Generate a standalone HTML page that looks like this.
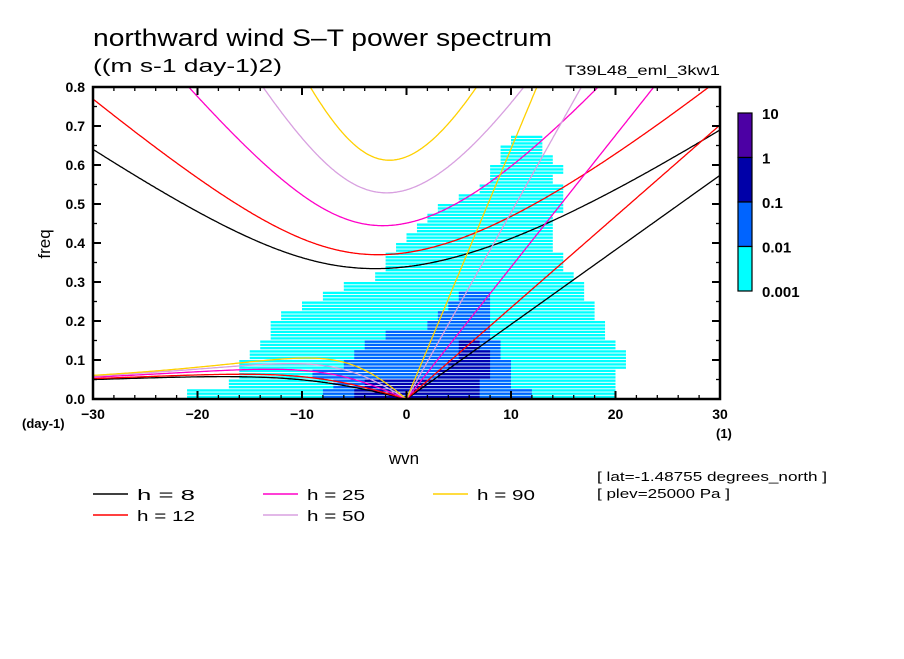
<!DOCTYPE html>
<html><head><meta charset="utf-8"><style>
body{margin:0;background:#fff}
svg text{font-family:"Liberation Sans",sans-serif}
</style></head><body>
<svg id="chart" width="904" height="654" viewBox="0 0 904 654" xmlns="http://www.w3.org/2000/svg">
<rect width="904" height="654" fill="#fff"/>
<defs><clipPath id="clip"><rect x="93" y="87" width="627" height="312"/></clipPath></defs>
<text x="93" y="46" font-size="24" textLength="459" lengthAdjust="spacingAndGlyphs">northward wind S–T power spectrum</text>
<text x="93" y="72" font-size="18" textLength="189" lengthAdjust="spacingAndGlyphs">((m s-1 day-1)2)</text>
<text x="565" y="75" font-size="14" textLength="155" lengthAdjust="spacingAndGlyphs">T39L48_eml_3kw1</text>
<g id="heat" clip-path="url(#clip)"></g>
<g id="curves" clip-path="url(#clip)"></g>
<g id="axes"></g>
<text transform="translate(50,244) rotate(-90)" font-size="17" text-anchor="middle">freq</text>
<text x="404" y="464" font-size="17" text-anchor="middle">wvn</text>
<text x="22" y="428" font-size="13" font-weight="bold">(day-1)</text>
<text x="716" y="438" font-size="13" font-weight="bold">(1)</text>
<g id="cbar"></g>
<g id="legend"></g>
<text x="597" y="481" font-size="13" textLength="230" lengthAdjust="spacingAndGlyphs">[ lat=-1.48755 degrees_north ]</text>
<text x="597" y="498" font-size="13" textLength="133" lengthAdjust="spacingAndGlyphs">[ plev=25000 Pa ]</text>
</svg>
<script>
const depths=[8,12,25,50,90];
const bandFreq=[0,0.025,0.05,0.075,0.1,0.125,0.15,0.175,0.2,0.225,0.25,0.275,0.3,0.325,0.35,0.375,0.4,0.425,0.45,0.475,0.5,0.525,0.55,0.575,0.6,0.625,0.65];
const cyanLo=[-21,-17,-16,-16,-15,-14,-13,-13,-12,-10,-8,-6,-3,-2,-2,-1,0,1,2,3,5,7,8,8,9,9,10];
const cyanHi=[20,20,20,21,21,20,19,19,18,18,17,17,16,15,15,14,14,14,14,15,15,15,14,15,14,13,13];
const blueLo=[-8,-7,-9,-6,-5,-4,-2,2,3,4,5,null,null,null,null,null,null,null,null,null,null,null,null,null,null,null,null];
const blueHi=[12,10,10,10,9,9,8,8,8,8,8,null,null,null,null,null,null,null,null,null,null,null,null,null,null,null,null];
const darkLo=[-5,-4,3,4,5,5,null,null,null,null,null,null,null,null,null,null,null,null,null,null,null,null,null,null,null,null,null];
const darkHi=[7,7,8,8,8,7,null,null,null,null,null,null,null,null,null,null,null,null,null,null,null,null,null,null,null,null,null];
const xTicks=[-30,-20,-10,0,10,20,30];
const yTicks=[0,0.1,0.2,0.3,0.4,0.5,0.6,0.7,0.8];
const cbarLabels=["10","1","0.1","0.01","0.001"];
const bandH=0.025;

const NS="http://www.w3.org/2000/svg";
const X0=93,X1=720,Y0=399,Y1=87;
function xs(s){return X0+(s+30)/60*(X1-X0);}
function ys(f){return Y0-f/0.8*(Y0-Y1);}
function mk(tag,attrs,parent){const e=document.createElementNS(NS,tag);for(const k in attrs)e.setAttribute(k,attrs[k]);parent.appendChild(e);return e;}

const heat=document.getElementById('heat');
function band(lo,hi,i,col,name){
  if(lo===null||hi===null)return;
  const top=ys(bandFreq[i]+bandH),h=ys(bandFreq[i])-top;
  for(let k=0;k<3;k++){
    const r=mk('rect',{x:xs(lo),y:top+k*h/3,width:xs(hi)-xs(lo),height:h/3*0.72,fill:col},heat);
    
    
  }
}
for(let i=0;i<bandFreq.length;i++){
  band(cyanLo[i],cyanHi[i],i,'#00ffff','cell-0.001');
  band(blueLo[i],blueHi[i],i,'#0064ff','cell-0.01');
  band(darkLo[i],darkHi[i],i,'#0000b0','cell-0.1');
}

const a=6.371e6,g=9.81,beta=2*7.292e-5/a,cpd=86400/(2*Math.PI);
const colors=['#000000','#ff0000','#ff00c8','#d8a0e0','#ffd000'];
const curves=document.getElementById('curves');
function newton(k,c,w){for(let i=0;i<60;i++){const f=w*w*w-(c*c*k*k+3*beta*c)*w-beta*c*c*k;const d=3*w*w-(c*c*k*k+3*beta*c);w-=f/d;}return w;}
depths.forEach((h,j)=>{
  const c=Math.sqrt(g*h);
  let ig=[],ro=[],kv=[];
  for(let s=-30;s<=30.001;s+=0.1){
    const k=s/a;
    const w0=Math.sqrt(c*c*k*k+3*beta*c)*1.5+1e-6;
    ig.push([xs(s),ys(newton(k,c,w0)*cpd)]);
    if(s<=0.001){const r0=k<0?-beta*k/(k*k+3*beta/c):0;ro.push([xs(s),ys((k<0?newton(k,c,r0):0)*cpd)]);}
    if(s>=-0.001)kv.push([xs(s),ys(c*k*cpd)]);
  }
  [[ig,'ig'],[ro,'rossby'],[kv,'kelvin']].forEach(([pts,nm])=>{
    const p=mk('polyline',{points:pts.map(q=>q[0].toFixed(1)+','+q[1].toFixed(1)).join(' '),fill:'none',stroke:colors[j],'stroke-width':1.3},curves);
    
    
  });
});

const ax=document.getElementById('axes');
mk('rect',{x:X0,y:Y1,width:X1-X0,height:Y0-Y1,fill:'none',stroke:'#000','stroke-width':2.5},ax);
for(let s=-30;s<=30;s+=2){
  const major=s%10===0,L=major?8:4;
  mk('line',{x1:xs(s),y1:Y0,x2:xs(s),y2:Y0-L,stroke:'#000','stroke-width':major?2:1.3},ax);
  mk('line',{x1:xs(s),y1:Y1,x2:xs(s),y2:Y1+L,stroke:'#000','stroke-width':major?2:1.3},ax);
}
for(let i=0;i<=16;i++){
  const f=i*0.05,major=i%2===0,L=major?8:4;
  mk('line',{x1:X0,y1:ys(f),x2:X0+L,y2:ys(f),stroke:'#000','stroke-width':major?2:1.3},ax);
  mk('line',{x1:X1,y1:ys(f),x2:X1-L,y2:ys(f),stroke:'#000','stroke-width':major?2:1.3},ax);
}
xTicks.forEach(t=>{
  const e=mk('text',{x:xs(t),y:419,'font-size':14,'font-weight':'bold','text-anchor':'middle'},ax);
  e.textContent=(t<0?'−':'')+Math.abs(t);
  
  
});
yTicks.forEach(t=>{
  const e=mk('text',{x:85,y:ys(t)+5,'font-size':14,'font-weight':'bold','text-anchor':'end'},ax);
  e.textContent=t.toFixed(1);
  
  
});

const cb=document.getElementById('cbar');
const cbCols=['#4c00a4','#0000a8','#0064ff','#00ffff'];
cbCols.forEach((col,i)=>{
  const r=mk('rect',{x:738,y:113+i*44.5,width:14,height:44.5,fill:col,stroke:'#000','stroke-width':1.2},cb);
  
  
});
cbarLabels.forEach((l,i)=>{
  const e=mk('text',{x:762,y:113+i*44.5+6,'font-size':15,'font-weight':'bold'},cb);
  e.textContent=l;
  
  
});

const lg=document.getElementById('legend');
const legPos=[[93,494],[93,515],[263,494],[263,515],[433,494]];
depths.forEach((h,j)=>{
  const [x,y]=legPos[j];
  const l=mk('line',{x1:x,y1:y,x2:x+35,y2:y,stroke:colors[j],'stroke-width':1.5},lg);
  
  
  const t=mk('text',{x:x+44,y:y+6,'font-size':15,textLength:58,lengthAdjust:'spacingAndGlyphs'},lg);
  t.textContent='h = '+h;
  
  
});
</script>
</body></html>
